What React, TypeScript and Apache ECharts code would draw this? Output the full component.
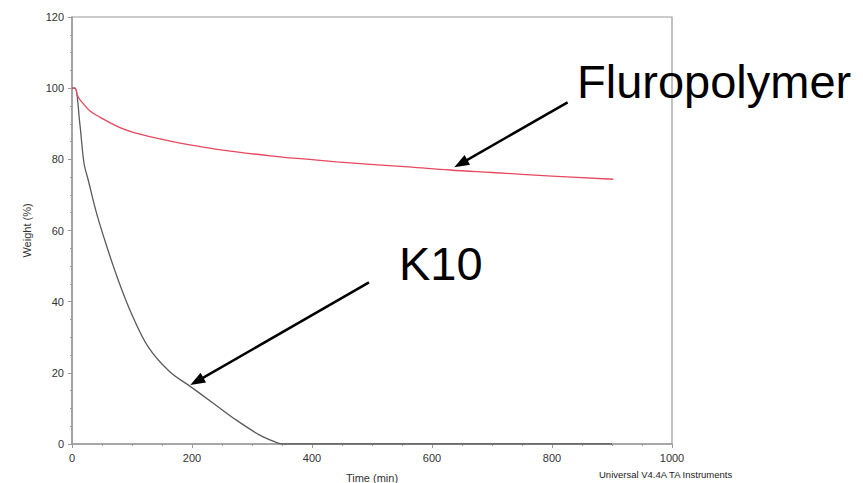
import React, { useEffect, useRef } from "react";
import * as echarts from "echarts";

// Fluropolymer (red) curve: time (min) and weight (%)
const fluroTime = [0, 5, 10, 19, 30, 47, 80, 102, 158, 213, 274, 330, 386, 441, 497, 560, 630, 700, 800, 902];
const fluroWeight = [100, 100, 97.6, 95.6, 93.6, 91.8, 88.9, 87.6, 85.3, 83.6, 82.1, 81.0, 80.1, 79.3, 78.6, 77.9, 77.0, 76.3, 75.3, 74.4];

// K10 (dark) curve
const k10Time = [0, 5, 13, 20, 27, 41, 58, 77, 99, 127, 163, 197, 236, 274, 313, 341, 350, 500, 700, 900];
const k10Weight = [100, 100, 90.1, 78.9, 74.2, 64.8, 55.5, 46.1, 36.7, 27.3, 20.3, 16.2, 11.4, 6.7, 2.5, 0.4, 0, 0, 0, 0];

// Axis tick values
const xTicks = [0, 200, 400, 600, 800, 1000];
const yTicks = [0, 20, 40, 60, 80, 100, 120];

// Annotation arrows: [from], [to] in data coordinates
const fluroArrow = [[826, 96.0], [648, 78.8]];
const k10Arrow = [[495, 45.4], [208, 17.6]];

const FONT = "'Liberation Sans', Arial, sans-serif";

export default function App() {
  const ref = useRef<HTMLDivElement>(null);
  useEffect(() => {
    if (!ref.current) return;
    const chart = echarts.init(ref.current, null, { renderer: "svg" });
    const axisColor = "#9a9a9a";
    const pair = (xs: number[], ys: number[]) => xs.map((x, i) => [x, ys[i]]);
    const arrowLine = (a: number[][]) => [[{ coord: a[0] }, { coord: a[1] }]];
    const arrowMark = (a: number[][]) => ({
      silent: true,
      symbol: ["none", "triangle"],
      symbolSize: [11, 15],
      label: { show: false },
      lineStyle: { color: "#000", width: 2.5, type: "solid" },
      itemStyle: { color: "#000" },
      emphasis: { disabled: true },
      data: arrowLine(a),
    });
    chart.setOption({
      animation: false,
      backgroundColor: "#ffffff",
      grid: {
        left: 72,
        right: 191,
        top: 17,
        bottom: 39,
        containLabel: false,
        outerBoundsMode: "none",
        show: true,
        borderColor: axisColor,
        borderWidth: 1.2,
        backgroundColor: "transparent",
      },
      xAxis: {
        type: "value",
        min: xTicks[0],
        max: xTicks[xTicks.length - 1],
        interval: 200,
        name: "Time (min)",
        nameLocation: "middle",
        nameGap: 28,
        nameTextStyle: { fontFamily: FONT, fontSize: 11, color: "#333" },
        axisLine: { show: true, lineStyle: { color: axisColor, width: 1.5 } },
        axisTick: { show: true, inside: false, length: 4, lineStyle: { color: axisColor } },
        minorTick: { show: true, splitNumber: 4, length: 2, lineStyle: { color: axisColor } },
        splitLine: { show: false },
        axisLabel: {
          fontFamily: FONT,
          fontSize: 11,
          color: "#333",
          margin: 8,
          formatter: (v: number) => String(v),
        },
      },
      yAxis: {
        type: "value",
        min: yTicks[0],
        max: yTicks[yTicks.length - 1],
        interval: 20,
        name: "Weight (%)",
        nameLocation: "middle",
        nameGap: 40,
        nameTextStyle: { fontFamily: FONT, fontSize: 11, color: "#333" },
        axisLine: { show: true, lineStyle: { color: axisColor, width: 1.5 } },
        axisTick: { show: true, inside: false, length: 4, lineStyle: { color: axisColor } },
        minorTick: { show: true, splitNumber: 4, length: 2, lineStyle: { color: axisColor } },
        splitLine: { show: false },
        axisLabel: { fontFamily: FONT, fontSize: 11, color: "#333", margin: 8 },
      },
      series: [
        {
          name: "K10",
          type: "line",
          data: pair(k10Time, k10Weight),
          smooth: 0.35,
          showSymbol: false,
          lineStyle: { color: "#5a5a5a", width: 1.3 },
          silent: true,
          markLine: arrowMark(k10Arrow),
        },
        {
          name: "Fluropolymer",
          type: "line",
          data: pair(fluroTime, fluroWeight),
          smooth: 0.4,
          showSymbol: false,
          lineStyle: { color: "#e8485e", width: 1.3 },
          silent: true,
          markLine: arrowMark(fluroArrow),
        },
      ],
      graphic: [
        {
          type: "text",
          left: 577,
          top: 58,
          style: { text: "Fluropolymer", font: `47px ${FONT}`, fill: "#000" },
        },
        {
          type: "text",
          left: 399,
          top: 240,
          style: { text: "K10", font: `47px ${FONT}`, fill: "#000" },
        },
        {
          type: "text",
          left: 599,
          top: 469,
          style: { text: "Universal V4.4A TA Instruments", font: `9.5px ${FONT}`, fill: "#222" },
        },
      ],
    });
    return () => chart.dispose();
  }, []);
  return (
    <div
      ref={ref}
      style={{ position: "fixed", left: 0, top: 0, width: 863, height: 483, background: "#fff" }}
    />
  );
}
